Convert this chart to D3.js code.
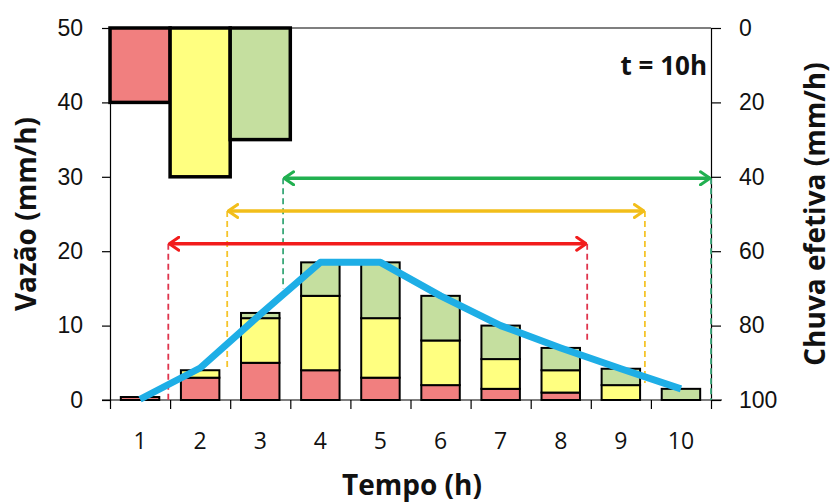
<!DOCTYPE html>
<html>
<head>
<meta charset="utf-8">
<script src="https://cdn.jsdelivr.net/npm/d3@7"></script>
<style>
	body { margin: 0; background: #fff; }
	svg { display: block; font-family: "Open Sans", Lato, sans-serif; }
</style>
</head>
<body>
<div id="chartDiv"></div>
<script>
;(function() {

	var width = 833;
	var height = 503;
	var margin = { top: 28, right: 122, bottom: 103, left: 110 };

	// data
	var hours = [1, 2, 3, 4, 5, 6, 7, 8, 9, 10];
	var flowRed = [0.4, 3, 5, 4, 3, 2, 1.5, 1, 0, 0];
	var flowYellow = [0, 1, 6, 10, 8, 6, 4, 3, 2, 0];
	var flowGreen = [0, 0, 0.7, 4.5, 7.5, 6, 4.5, 3, 2.2, 1.5];
	var hydrograph = [0.1, 4.3, 11.5, 18.5, 18.5, 14, 10, 7, 4.2, 1.5];

	var rainHours = [1, 2, 3];
	var rainValues = [20, 40, 30];

	var leftTicks = [0, 10, 20, 30, 40, 50];
	var rightTicks = [0, 20, 40, 60, 80, 100];

	// time base arrows (time in h, level in vazão units)
	var arrowStart = [0.97, 1.95, 2.88];
	var arrowEnd = [7.94, 8.9, 10];
	var arrowLevel = [21, 25.4, 29.8];
	var dashStartBottom = [0, 4.4, 15];
	var dashEndBottom = [7.7, 2.3, 0];
	var arrowColors = ["#f21c1c", "#f2be1a", "#21b050"];
	var dashColors = ["#e0344c", "#f5c42a", "#3aa87a"];

	var layerColors = ["#f17f7f", "#ffff80", "#c5df9f"];
	var timeLabel = "t = 10h";

	var chartWidth = width - margin.left - margin.right;
	var chartHeight = height - margin.top - margin.bottom;

	var svg = d3.select("#chartDiv").append("svg")
		.attr("width", width)
		.attr("height", height);

	var xBand = d3.scaleBand()
		.domain(hours)
		.range([margin.left, margin.left + chartWidth])
		.paddingInner(0.36)
		.paddingOuter(0.18);

	var xTime = d3.scaleLinear()
		.domain([0, 10])
		.range([margin.left, margin.left + chartWidth]);

	var yFlow = d3.scaleLinear()
		.domain([0, 50])
		.range([margin.top + chartHeight, margin.top]);

	var yRain = d3.scaleLinear()
		.domain([0, 100])
		.range([margin.top, margin.top + chartHeight]);

	// top frame line
	svg.append("line")
		.attr("x1", margin.left).attr("x2", margin.left + chartWidth)
		.attr("y1", margin.top).attr("y2", margin.top)
		.attr("stroke", "#000").attr("stroke-width", 1.2);

	// stacked flow bars
	var rows = hours.map(function(h, i) {
		return { hour: h, red: flowRed[i], yellow: flowYellow[i], green: flowGreen[i] };
	});
	var stack = d3.stack().keys(["red", "yellow", "green"])(rows);

	stack.forEach(function(layer, li) {
		svg.append("g").selectAll("rect")
			.data(layer.filter(function(d) { return d[1] - d[0] > 0; }))
			.enter().append("rect")
			.attr("x", function(d) { return xBand(d.data.hour); })
			.attr("width", xBand.bandwidth())
			.attr("y", function(d) { return yFlow(d[1]); })
			.attr("height", function(d) { return yFlow(d[0]) - yFlow(d[1]); })
			.attr("fill", layerColors[li])
			.attr("stroke", "#000")
			.attr("stroke-width", 2);
	});

	// dashed verticals
	var g = svg.append("g");
	arrowStart.forEach(function(t, i) {
		g.append("line")
			.attr("x1", xTime(t)).attr("x2", xTime(t))
			.attr("y1", yFlow(arrowLevel[i])).attr("y2", yFlow(dashStartBottom[i]))
			.attr("stroke", dashColors[i]).attr("stroke-width", 1.8)
			.attr("stroke-dasharray", "6,4");
		g.append("line")
			.attr("x1", xTime(arrowEnd[i])).attr("x2", xTime(arrowEnd[i]))
			.attr("y1", yFlow(arrowLevel[i])).attr("y2", yFlow(dashEndBottom[i]))
			.attr("stroke", dashColors[i]).attr("stroke-width", 1.8)
			.attr("stroke-dasharray", "6,4");
	});

	// rain bars (hanging from top)
	svg.append("g").selectAll("rect")
		.data(rainHours)
		.enter().append("rect")
		.attr("x", function(h) { return xTime(h - 1); })
		.attr("width", function(h) { return xTime(h) - xTime(h - 1); })
		.attr("y", yRain(0))
		.attr("height", function(h, i) { return yRain(rainValues[i]) - yRain(0); })
		.attr("fill", function(h, i) { return layerColors[i]; })
		.attr("stroke", "#000")
		.attr("stroke-width", 3.5);

	// axes
	var xAxis = d3.axisBottom(xTime)
		.tickValues(d3.range(0, 11))
		.tickFormat("")
		.tickSize(9)
		.tickSizeOuter(0);
	svg.append("g")
		.attr("transform", "translate(0," + (margin.top + chartHeight) + ")")
		.call(xAxis)
		.call(function(a) {
			a.select(".domain").attr("d", "M" + (margin.left - 8) + ",0H" + (margin.left + chartWidth + 11));
			a.selectAll("line, path").attr("stroke", "#000").attr("stroke-width", 1.2);
		});

	svg.append("g").selectAll("text")
		.data(hours)
		.enter().append("text")
		.attr("x", function(h) { return xBand(h) + xBand.bandwidth() / 2; })
		.attr("y", margin.top + chartHeight + 49)
		.attr("text-anchor", "middle")
		.style("font-size", "23px")
		.attr("fill", "#111")
		.text(function(h) { return h; });

	var leftAxis = d3.axisLeft(yFlow)
		.tickValues(leftTicks)
		.tickSize(8)
		.tickPadding(19)
		.tickSizeOuter(0);
	svg.append("g")
		.attr("transform", "translate(" + margin.left + ",0)")
		.call(leftAxis)
		.call(function(a) {
			a.selectAll("line, path").attr("stroke", "#000").attr("stroke-width", 1.2);
			a.selectAll("text").style("font-size", "23px").attr("fill", "#111").attr("font-family", null);
		});

	var rightAxis = d3.axisRight(yRain)
		.tickValues(rightTicks)
		.tickSize(10)
		.tickPadding(18)
		.tickSizeOuter(0);
	svg.append("g")
		.attr("transform", "translate(" + (margin.left + chartWidth) + ",0)")
		.call(rightAxis)
		.call(function(a) {
			a.selectAll("line, path").attr("stroke", "#000").attr("stroke-width", 1.2);
			a.selectAll("text").style("font-size", "23px").attr("fill", "#111").attr("font-family", null);
		});

	// green end dashed line sits on the right axis
	g.raise();

	// hydrograph
	var line = d3.line()
		.x(function(d, i) { return xBand(hours[i]) + xBand.bandwidth() / 2; })
		.y(function(d) { return yFlow(d); });
	svg.append("path")
		.datum(hydrograph)
		.attr("d", line)
		.attr("fill", "none")
		.attr("stroke", "#1eaee6")
		.attr("stroke-width", 7)
		.attr("stroke-linejoin", "round");

	// arrows
	var defs = svg.append("defs");
	arrowColors.forEach(function(c, i) {
		defs.append("marker")
			.attr("id", "head" + i)
			.attr("viewBox", "0 0 12 16")
			.attr("refX", 11).attr("refY", 8)
			.attr("markerUnits", "userSpaceOnUse")
			.attr("markerWidth", 12).attr("markerHeight", 16)
			.attr("orient", "auto-start-reverse")
			.append("path")
			.attr("d", "M1.5,1.5 L11,8 L1.5,14.5")
			.attr("fill", "none")
			.attr("stroke", c)
			.attr("stroke-width", 3)
			.attr("stroke-linecap", "round")
			.attr("stroke-linejoin", "round");
	});
	arrowStart.forEach(function(t, i) {
		svg.append("line")
			.attr("x1", xTime(t) + 1).attr("x2", xTime(arrowEnd[i]) - 1)
			.attr("y1", yFlow(arrowLevel[i])).attr("y2", yFlow(arrowLevel[i]))
			.attr("stroke", arrowColors[i])
			.attr("stroke-width", 3.5)
			.attr("marker-start", "url(#head" + i + ")")
			.attr("marker-end", "url(#head" + i + ")");
	});

	// labels
	svg.append("text")
		.attr("x", margin.left + chartWidth - 4)
		.attr("y", 75)
		.attr("text-anchor", "end")
		.style("font-size", "26px")
		.style("font-weight", "bold")
		.attr("fill", "#111")
		.text(timeLabel);

	svg.append("text")
		.attr("transform", "translate(36," + (margin.top + chartHeight / 2) + ") rotate(-90)")
		.attr("text-anchor", "middle")
		.style("font-size", "28px")
		.style("font-weight", "bold")
		.attr("fill", "#111")
		.text("Vazão (mm/h)");

	svg.append("text")
		.attr("transform", "translate(825," + (margin.top + chartHeight / 2) + ") rotate(-90)")
		.attr("text-anchor", "middle")
		.style("font-size", "28px")
		.style("font-weight", "bold")
		.attr("fill", "#111")
		.text("Chuva efetiva (mm/h)");

	svg.append("text")
		.attr("x", 412)
		.attr("y", 495)
		.attr("text-anchor", "middle")
		.style("font-size", "28px")
		.style("font-weight", "bold")
		.attr("fill", "#111")
		.text("Tempo (h)");

})();
</script>
</body>
</html>
